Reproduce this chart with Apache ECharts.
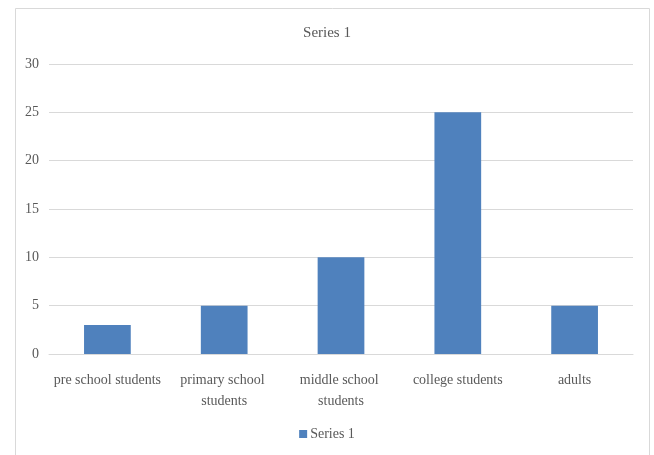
<!DOCTYPE html>
<html>
<head>
<meta charset="utf-8">
<script src="https://cdn.jsdelivr.net/npm/echarts@6/dist/echarts.min.js"></script>
<style>
html,body{margin:0;padding:0;background:#fff;}
#c{width:654px;height:455px;}
</style>
</head>
<body>
<div id="c"></div>
<script>
const categories = ['pre school students', 'primary school students', 'middle school students', 'college students', 'adults'];
const seriesName = 'Series 1';
const values = [3, 5, 10, 25, 5];
const yTicks = { min: 0, max: 30, interval: 5 };

const font = 'Liberation Serif';
const chart = echarts.init(document.getElementById('c'));
chart.setOption({
  animation: false,
  backgroundColor: '#fff',
  graphic: [{
    type: 'rect', left: 13, top: 6, silent: true,
    shape: { width: 634, height: 460 },
    style: { fill: 'none', stroke: '#d9d9d9', lineWidth: 1 }
  }],
  title: {
    text: seriesName, left: 'center', top: 21,
    textStyle: { fontFamily: font, fontSize: 15, fontWeight: 'normal', color: '#595959' }
  },
  legend: {
    bottom: 9, left: 'center',
    itemWidth: 8, itemHeight: 8, itemGap: 4,
    icon: 'rect',
    textStyle: { fontFamily: font, fontSize: 14, color: '#595959', padding: [0,0,0,-2] },
    data: [seriesName]
  },
  grid: { left: 49, right: 21, top: 64, bottom: 101, containLabel: false },
  xAxis: {
    type: 'category', data: categories,
    axisLine: { lineStyle: { color: '#d9d9d9' } },
    axisTick: { show: false },
    axisLabel: {
      fontFamily: font, fontSize: 14, color: '#595959', margin: 16,
      width: 112, overflow: 'break', lineHeight: 21, interval: 0
    }
  },
  yAxis: {
    type: 'value', min: yTicks.min, max: yTicks.max, interval: yTicks.interval,
    axisLine: { show: false }, axisTick: { show: false },
    axisLabel: { fontFamily: font, fontSize: 14, color: '#595959', margin: 10 },
    splitLine: { lineStyle: { color: '#d9d9d9' } }
  },
  series: [{
    name: seriesName, type: 'bar', data: values,
    barCategoryGap: '60%',
    itemStyle: { color: '#4F81BD' }
  }]
});
</script>
</body>
</html>
